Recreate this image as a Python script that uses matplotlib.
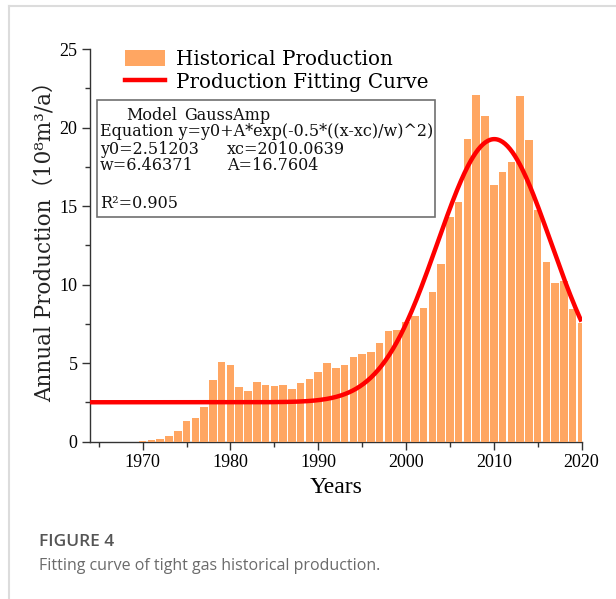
import matplotlib
matplotlib.use("Agg")
import matplotlib.pyplot as plt
from matplotlib.lines import Line2D
from matplotlib.patches import Patch, Rectangle
from matplotlib.ticker import MultipleLocator
import numpy as np

# annual tight gas production, 10^8 m^3/a
years = list(range(1970, 2021))
production = [
    0.05, 0.10, 0.20, 0.36, 0.68, 1.30, 1.53, 2.23, 3.93, 5.06,
    4.86, 3.50, 3.23, 3.82, 3.61, 3.55, 3.63, 3.38, 3.76, 3.97,
    4.44, 5.03, 4.69, 4.86, 5.41, 5.56, 5.73, 6.31, 7.07, 7.11,
    7.60, 7.99, 8.54, 9.51, 11.34, 14.29, 15.25, 19.28, 22.08, 20.76,
    16.37, 17.18, 17.83, 22.00, 19.20, 14.76, 11.47, 10.13, 10.26, 8.43,
    7.58,
]

# GaussAmp fit parameters
y0 = 2.51203
xc = 2010.0639
w = 6.46371
A = 16.7604
r2 = 0.905

W, H = 616, 599
fig = plt.figure(figsize=(W / 100, H / 100), dpi=100)
ax = fig.add_axes([90 / W, 1 - 441.7 / H, (581.5 - 90) / W, (441.7 - 49.2) / H])

ax.bar(years, production, width=0.86, color='#ffa662', edgecolor='none', zorder=2)

fit_x = np.linspace(1964, 2020, 400)
fit_y = y0 + A * np.exp(-0.5 * ((fit_x - xc) / w) ** 2)
ax.plot(fit_x, fit_y, color='#ff0000', lw=3.2, zorder=3, solid_capstyle='butt')

ax.set_xlim(1964, 2020)
ax.set_ylim(0, 25)
ax.xaxis.set_major_locator(MultipleLocator(10))
ax.xaxis.set_minor_locator(MultipleLocator(5))
ax.yaxis.set_major_locator(MultipleLocator(5))
ax.yaxis.set_minor_locator(MultipleLocator(2.5))

for s in ['top', 'right']:
    ax.spines[s].set_visible(False)
for s in ['left', 'bottom']:
    ax.spines[s].set_color('#333333')
    ax.spines[s].set_linewidth(1.0)
    ax.spines[s].set_zorder(1)

ax.tick_params(which='major', direction='out', length=6, width=1.0, color='#333333', pad=3)
ax.tick_params(which='minor', direction='out', length=3.5, width=1.0, color='#333333')
for lab in ax.get_xticklabels() + ax.get_yticklabels():
    lab.set_fontfamily('Liberation Serif')
    lab.set_fontsize(13)

ax.set_xlabel('Years', fontfamily='Liberation Serif', fontsize=17, labelpad=4)
fig.text(45 / W, 1 - 236 / H, 'Annual Production（10⁸m³/a）', rotation=90,
         ha='center', va='center', fontsize=15.5,
         family=['DejaVu Serif', 'Noto Sans CJK SC'], color='#222222')

handles = [Patch(facecolor='#ffa662', edgecolor='none'),
           Line2D([], [], color='#ff0000', lw=3.2)]
leg = fig.legend(handles, ['Historical Production', 'Production Fitting Curve'],
                 loc='upper left', bbox_to_anchor=(125 / W, 1 - 50 / H),
                 frameon=False, borderpad=0, borderaxespad=0,
                 handlelength=2.0, handleheight=0.9, handletextpad=0.55,
                 labelspacing=0.18, prop={'family': 'DejaVu Serif', 'size': 14.3})

# fit summary box
fig.add_artist(Rectangle((97 / W, 1 - 217 / H), (435 - 97) / W, (217 - 100) / H,
                         transform=fig.transFigure, facecolor='white',
                         edgecolor='#707070', lw=1.2, zorder=4))
box_font = {'family': 'DejaVu Serif', 'size': 11.5, 'color': '#111111', 'zorder': 5}
fig.text(126 / W, 1 - 115 / H, 'Model', va='center', **box_font)
fig.text(184 / W, 1 - 115 / H, 'GaussAmp', va='center', **box_font)
fig.text(100 / W, 1 - 132 / H, 'Equation y=y0+A*exp(-0.5*((x-xc)/w)^2)', va='center', **box_font)
fig.text(100 / W, 1 - 149.3 / H, f'y0={y0}', va='center', **box_font)
fig.text(227 / W, 1 - 149.3 / H, f'xc={xc}', va='center', **box_font)
fig.text(100 / W, 1 - 166 / H, f'w={w}', va='center', **box_font)
fig.text(227 / W, 1 - 166 / H, f'A={A}', va='center', **box_font)
fig.text(100 / W, 1 - 203.3 / H, f'R²={r2}', va='center', **box_font)

# page frame and caption
fig.add_artist(Line2D([9 / W, 1], [1 - 6 / H, 1 - 6 / H], transform=fig.transFigure,
                      color='#dcdcdc', lw=1.5))
fig.add_artist(Line2D([9 / W, 9 / W], [0, 1 - 6 / H], transform=fig.transFigure,
                      color='#dcdcdc', lw=1.5))
fig.text(39 / W, 1 - 542 / H, 'FIGURE 4', fontfamily='Open Sans', fontweight='semibold',
         fontsize=12.5, color='#555555', va='center')
fig.text(39 / W, 1 - 566 / H, 'Fitting curve of tight gas historical production.',
         fontfamily='Open Sans', fontsize=11.5, color='#6b6b6b', va='center')

fig.savefig('out.png', dpi=100)
